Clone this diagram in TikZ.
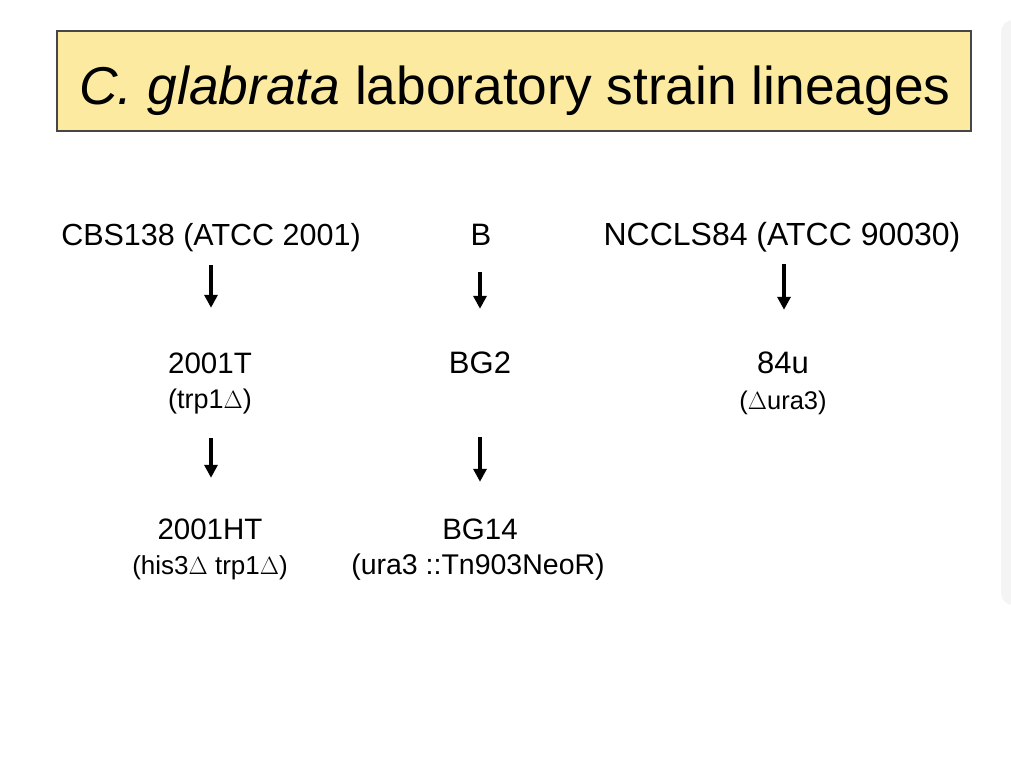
\documentclass[tikz,border=0pt]{standalone}
\usepackage{fontspec}
\setmainfont{Liberation Sans}
\usetikzlibrary{arrows.meta}
\definecolor{titlefill}{RGB}{252,234,160}
\definecolor{titledraw}{RGB}{70,70,70}
\definecolor{panelfill}{RGB}{244,244,244}
\tikzset{
  lbl/.style={inner sep=0pt, anchor=base, text height=22pt, text depth=7pt},
  sublbl/.style={inner sep=0pt, anchor=base, text height=21pt, text depth=6pt},
  arr/.style={line width=3.4pt, -{Triangle[width=13pt,length=13pt]}},
  titlebox/.style={draw=titledraw, line width=1.3pt, fill=titlefill, minimum width=914pt, minimum height=100pt, inner sep=0pt}
}
\newcommand{\fs}[1]{\fontsize{#1}{#1}\selectfont}
\begin{document}
\begin{tikzpicture}[x=1pt,y=-1pt]
\useasboundingbox (0,0) rectangle (1011,757);
\clip (0,0) rectangle (1011,757);
\fill[white] (0,0) rectangle (1011,757);
% right side panel
\fill[panelfill, rounded corners=12pt] (1001,20) rectangle (1060,605);
% title
\node[titlebox] (title) at (514,81) {};
\node[anchor=base, inner sep=0pt] (titletext) at (515,105) {\fs{53.3}\textit{C. glabrata} laboratory strain lineages};
% row 1
\node[lbl] (cbs) at (211,245) {\fs{30.5}CBS138 (ATCC 2001)};
\node[lbl] (b) at (481,245) {\fs{31}B};
\node[lbl] (nccls) at (782,245) {\fs{32}NCCLS84 (ATCC 90030)};
% row 2
\node[lbl] (t2001) at (210,373) {\fs{29.5}2001T};
\node[sublbl] (trp) at (210,408) {\fs{27}(trp1$\Delta$)};
\node[lbl] (bg2) at (480,373) {\fs{31}BG2};
\node[lbl] (u84) at (783,373) {\fs{31}84u};
\node[sublbl] (ura) at (783,409) {\fs{25.5}($\Delta$ura3)};
% row 3
\node[lbl] (ht2001) at (210,539) {\fs{29.5}2001HT};
\node[sublbl] (histrp) at (210,574) {\fs{26}(his3$\Delta$ trp1$\Delta$)};
\node[lbl] (bg14) at (480,539) {\fs{29.5}BG14};
\node[sublbl] (neo) at (478,574) {\fs{28.5}(ura3 ::Tn903NeoR)};
% arrows
\draw[arr, shorten <=13pt, shorten >=43pt] (cbs.south -| 211,0) -- (t2001.north -| 211,0);
\draw[arr, shorten <=20pt, shorten >=42pt] (b.south -| 480,0) -- (bg2.north -| 480,0);
\draw[arr, shorten <=12pt, shorten >=41pt] (nccls.south -| 784,0) -- (u84.north -| 784,0);
\draw[arr, shorten <=24pt, shorten >=39pt] (trp.south -| 211,0) -- (ht2001.north -| 211,0);
\draw[arr, shorten <=57pt, shorten >=35pt] (bg2.south -| 480,0) -- (bg14.north -| 480,0);
\end{tikzpicture}
\end{document}
